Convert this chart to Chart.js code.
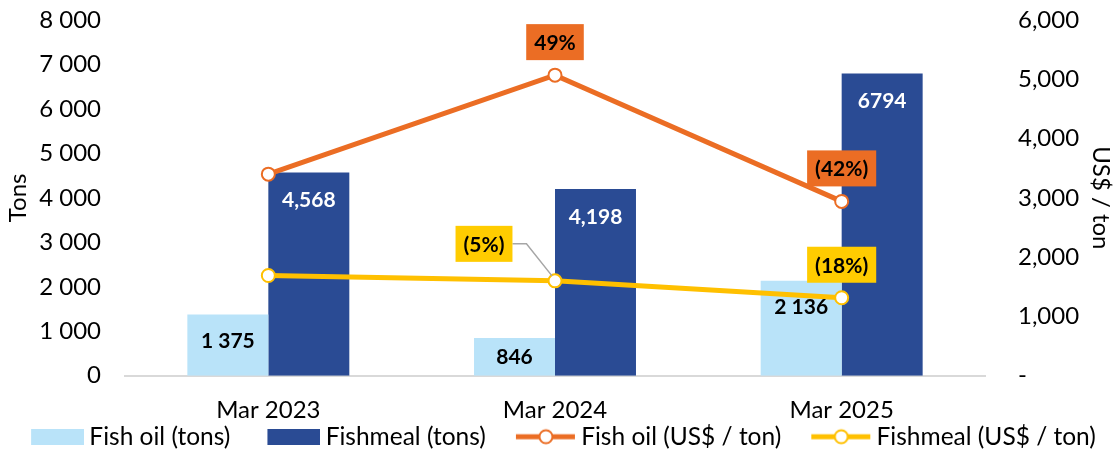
<!DOCTYPE html>
<html>
<head>
<meta charset="utf-8">
<script src="https://cdn.jsdelivr.net/npm/chart.js@4"></script>
<style>
  html, body { margin: 0; padding: 0; background: #fff; }
  #wrap { width: 1120px; height: 451px; }
</style>
</head>
<body>
<div id="wrap"><canvas id="myChart"></canvas></div>
<script>
// categories
const months = ['Mar 2023', 'Mar 2024', 'Mar 2025'];

// volumes (tons) - left axis
const fishOilTons = [1375, 846, 2136];
const fishmealTons = [4568, 4198, 6794];
const fishOilTonLabels = ['1 375', '846', '2 136'];
const fishmealTonLabels = ['4,568', '4,198', '6794'];

// prices (US$ / ton) - right axis
const fishOilPrice = [3400, 5070, 2940];
const fishmealPrice = [1690, 1600, 1315];
const fishOilChange = [null, '49%', '(42%)'];
const fishmealChange = [null, '(5%)', '(18%)'];

const FONT = 'Lato, "Open Sans", sans-serif';
const LIGHT = '#B9E3F9';
const DARK = '#2A4B94';
const ORANGE = '#EB6D24';
const YELLOW = '#FFC000';
const YELLOW_BOX = '#FFCC00';

//legend markers (transparent space on the left acts as gap between items)
const MARK_W = 96;
function boxMarker(color) {
    const c = document.createElement('canvas');
    c.width = MARK_W; c.height = 16;
    const g = c.getContext('2d');
    g.fillStyle = color;
    g.fillRect(MARK_W - 53, 0, 53, 16);
    return c;
}
function lineMarker(color) {
    const c = document.createElement('canvas');
    c.width = MARK_W; c.height = 18;
    const g = c.getContext('2d');
    const x0 = MARK_W - 60;
    g.strokeStyle = color;
    g.lineWidth = 5;
    g.beginPath(); g.moveTo(x0, 9); g.lineTo(MARK_W - 1, 9); g.stroke();
    g.fillStyle = '#fff';
    g.lineWidth = 2;
    g.beginPath(); g.arc(x0 + 30, 9, 6.5, 0, Math.PI * 2); g.fill(); g.stroke();
    return c;
}

//data labels drawn on top of the datasets
const valueLabels = {
    id: 'valueLabels',
    afterLayout(chart) {
        // nudge the legend row a bit to the left
        chart.legend.left -= 14;
        chart.legend.right -= 14;
    },
    afterDatasetsDraw(chart) {
        const ctx = chart.ctx;
        ctx.save();
        ctx.font = 'bold 21px ' + FONT;
        ctx.textAlign = 'center';
        ctx.textBaseline = 'middle';

        // bar labels
        chart.getDatasetMeta(2).data.forEach((bar, i) => {
            const mid = (bar.y + bar.base) / 2;
            ctx.fillStyle = '#000';
            ctx.fillText(fishOilTonLabels[i], bar.x, Math.min(mid, bar.y + 27));
        });
        chart.getDatasetMeta(3).data.forEach((bar, i) => {
            ctx.fillStyle = '#fff';
            ctx.fillText(fishmealTonLabels[i], bar.x, bar.y + 28);
        });

        // change boxes on the price lines
        const boxes = [[0, fishOilChange, ORANGE], [1, fishmealChange, YELLOW_BOX]];
        boxes.forEach(([di, texts, color]) => {
            chart.getDatasetMeta(di).data.forEach((pt, i) => {
                if (!texts[i]) return;
                let dx = 0, dy = -33;
                const leader = (di === 1 && i === 1);
                if (leader) { dx = -71; dy = -37; }
                const cx = pt.x + dx, cy = pt.y + dy;
                const w = ctx.measureText(texts[i]).width + 16;
                const h = 36;
                if (leader) {
                    ctx.strokeStyle = '#A6A6A6';
                    ctx.lineWidth = 1.5;
                    ctx.beginPath();
                    ctx.moveTo(cx + w / 2, cy);
                    ctx.lineTo(cx + w / 2 + 14, cy);
                    ctx.lineTo(pt.x - 3, pt.y - 5);
                    ctx.stroke();
                }
                ctx.fillStyle = color;
                ctx.fillRect(cx - w / 2, cy - h / 2, w, h);
                ctx.fillStyle = '#000';
                ctx.fillText(texts[i], cx, cy + 1);
            });
        });
        ctx.restore();
    }
};

const ctx = document.getElementById('myChart').getContext('2d');
const myChart = new Chart(ctx, {
    type: 'bar',
    data: {
        labels: months,
        datasets: [
            {
                type: 'line', label: 'Fish oil (US$ / ton)', data: fishOilPrice, yAxisID: 'yRight',
                borderColor: ORANGE, borderWidth: 5, pointRadius: 6.5, pointBorderWidth: 2,
                pointBackgroundColor: '#fff', pointBorderColor: ORANGE, tension: 0, order: 0
            },
            {
                type: 'line', label: 'Fishmeal (US$ / ton)', data: fishmealPrice, yAxisID: 'yRight',
                borderColor: YELLOW, borderWidth: 5, pointRadius: 6.5, pointBorderWidth: 2,
                pointBackgroundColor: '#fff', pointBorderColor: YELLOW, tension: 0, order: 0
            },
            {
                label: 'Fish oil (tons)', data: fishOilTons, yAxisID: 'y',
                backgroundColor: LIGHT, order: 1,
                categoryPercentage: 0.565, barPercentage: 1
            },
            {
                label: 'Fishmeal (tons)', data: fishmealTons, yAxisID: 'y',
                backgroundColor: DARK, order: 1,
                categoryPercentage: 0.565, barPercentage: 1
            }
        ]
    },
    options: {
        responsive: true,
        maintainAspectRatio: false,
        animation: false,
        layout: { padding: { top: 20, left: 4, right: 5, bottom: -8 } },
        scales: {
            x: {
                grid: { display: false },
                border: { display: true, color: '#D9D9D9', width: 2 },
                ticks: { color: '#000', font: { family: FONT, size: 24 }, padding: 12 },
                afterFit: s => { s.height -= 13; }
            },
            y: {
                position: 'left', min: 0, max: 8000,
                grid: { display: false },
                border: { display: false },
                ticks: {
                    stepSize: 1000, color: '#000', padding: 16,
                    font: { family: FONT, size: 24 },
                    callback: v => v === 0 ? '0' : (v / 1000) + ' 000'
                },
                title: { display: true, text: 'Tons', color: '#000', font: { family: FONT, size: 24 }, padding: 0 },
                afterFit: s => { s.width = 121; s.paddingTop = 0; s.paddingBottom = 0; }
            },
            yRight: {
                position: 'right', min: 0, max: 6000,
                grid: { display: false },
                border: { display: false },
                ticks: {
                    stepSize: 1000, color: '#000', padding: 25,
                    font: { family: FONT, size: 24 },
                    callback: v => v === 0 ? '-' : v.toLocaleString('en-US')
                },
                title: { display: true, text: 'US$ / ton', color: '#000', font: { family: FONT, size: 24 }, padding: 0 },
                afterFit: s => { s.width = 130; s.paddingTop = 0; s.paddingBottom = 0; }
            }
        },
        plugins: {
            tooltip: { enabled: false },
            legend: {
                position: 'bottom',
                labels: {
                    color: '#000',
                    font: { family: FONT, size: 24.5 },
                    usePointStyle: true,
                    pointStyleWidth: 82,
                    padding: 1,
                    generateLabels: chart => {
                        const order = [2, 3, 0, 1];
                        return order.map(i => {
                            const ds = chart.data.datasets[i];
                            return {
                                text: ds.label,
                                datasetIndex: i,
                                pointStyle: ds.type === 'line' ? lineMarker(ds.borderColor) : boxMarker(ds.backgroundColor),
                                fillStyle: ds.backgroundColor,
                                strokeStyle: ds.borderColor,
                                lineWidth: 0,
                                hidden: false,
                                fontColor: '#000'
                            };
                        });
                    }
                }
            }
        }
    },
    plugins: [valueLabels]
});
</script>
</body>
</html>
